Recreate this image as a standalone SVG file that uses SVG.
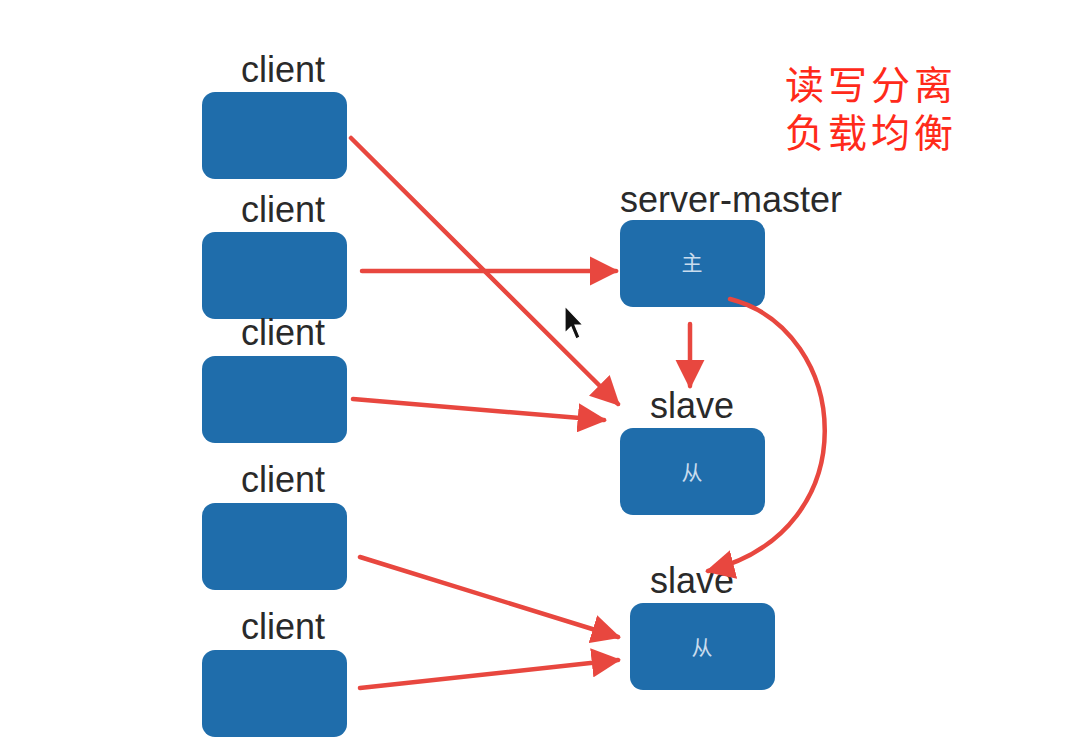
<svg xmlns="http://www.w3.org/2000/svg" width="1088" height="754" viewBox="0 0 1088 754">
<style>
.box{fill:#1f6dab;}
.lbl{font-family:"Liberation Sans",Arial,sans-serif;font-size:36px;fill:#2a2a2a;text-anchor:middle;}
.cj{font-family:"Noto Sans CJK SC",sans-serif;font-size:21px;fill:#c9dcee;text-anchor:middle;}
.title{font-family:"Noto Sans CJK SC",sans-serif;font-size:39px;letter-spacing:4px;fill:#ff2a1a;}
.ln{fill:none;stroke:#e8473f;stroke-width:4.5;stroke-linecap:round;}
</style>
<defs>
<marker id="ah" viewBox="0 0 10 10" refX="9" refY="5" markerWidth="6.5" markerHeight="6.5" orient="auto" markerUnits="strokeWidth">
<path d="M0,0 L10,5 L0,10 Z" fill="#e8473f"/>
</marker>
</defs>
<rect width="1088" height="754" fill="#ffffff"/>
<g id="title">
<text class="title" x="785" y="99">读写分离</text>
<text class="title" x="785" y="147">负载均衡</text>
</g>
<g id="client1"><text class="lbl" x="283" y="82">client</text><rect class="box" x="202" y="92" width="145" height="87" rx="13"/></g>
<g id="client2"><text class="lbl" x="283" y="222">client</text><rect class="box" x="202" y="232" width="145" height="87" rx="13"/></g>
<g id="client3"><text class="lbl" x="283" y="345">client</text><rect class="box" x="202" y="356" width="145" height="87" rx="13"/></g>
<g id="client4"><text class="lbl" x="283" y="492">client</text><rect class="box" x="202" y="503" width="145" height="87" rx="13"/></g>
<g id="client5"><text class="lbl" x="283" y="639">client</text><rect class="box" x="202" y="650" width="145" height="87" rx="13"/></g>
<g id="master"><text class="lbl" x="731" y="212">server-master</text><rect class="box" x="620" y="220" width="145" height="87" rx="13"/><text class="cj" x="692" y="270">主</text></g>
<g id="slave1"><text class="lbl" x="692" y="418">slave</text><rect class="box" x="620" y="428" width="145" height="87" rx="13"/><text class="cj" x="692" y="480">从</text></g>
<g id="slave2"><text class="lbl" x="692" y="593">slave</text><rect class="box" x="630" y="603" width="145" height="87" rx="13"/><text class="cj" x="702" y="655">从</text></g>
<g id="connectors">
<path class="ln" d="M351,138 L618,404" marker-end="url(#ah)"/>
<path class="ln" d="M362,271 L616,271" marker-end="url(#ah)"/>
<path class="ln" d="M353,399 L604,420" marker-end="url(#ah)"/>
<path class="ln" d="M690,324 L690,386" marker-end="url(#ah)"/>
<path class="ln" d="M730,299 C850,330 870,530 708,571" marker-end="url(#ah)"/>
<path class="ln" d="M360,557 L618,637" marker-end="url(#ah)"/>
<path class="ln" d="M360,688 L618,660" marker-end="url(#ah)"/>
</g>
<g id="cursor">
<path d="M565,306 L565,333 L571,327 L576,339 L580,337 L575,325 L583,325 Z" fill="#111" stroke="#fff" stroke-width="1.2"/>
</g>
</svg>
